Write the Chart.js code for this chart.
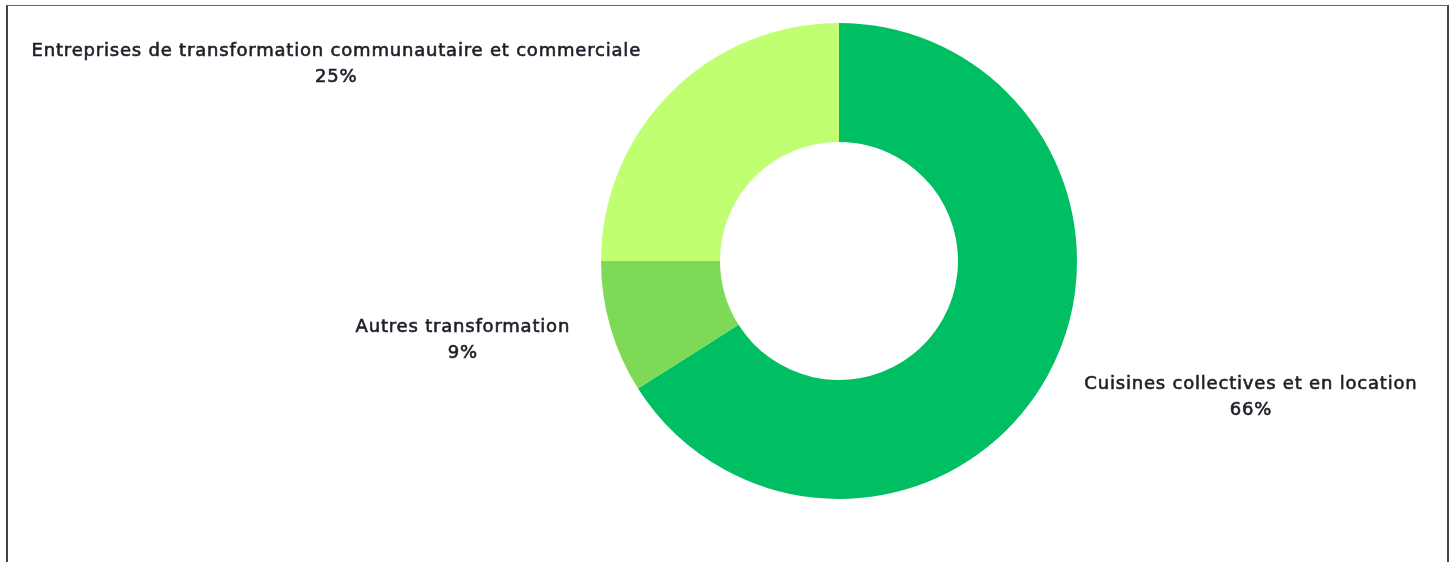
<!DOCTYPE html>
<html>
<head>
<meta charset="utf-8">
<script src="https://cdn.jsdelivr.net/npm/chart.js@4/dist/chart.umd.min.js"></script>
<style>
  html, body { margin: 0; padding: 0; background: #fff; overflow: hidden; }
  #frame {
    position: absolute; left: 6px; top: 5px; width: 1439px; height: 600px;
    border-left: 2px solid #444; border-right: 2px solid #444; border-top: 1px solid #666;
  }
  #c { position: absolute; left: 0; top: 0; }
</style>
</head>
<body>
<div id="frame"></div>
<canvas id="c" width="1454" height="562"></canvas>
<script>
// values, clockwise from 12 o'clock
var categories = ["Cuisines collectives et en location", "Autres transformation", "Entreprises de transformation communautaire et commerciale"];
var shares = [66, 9, 25];
var sliceColors = ["#00BF63", "#7ED957", "#C1FF72"];

// draws the two-line labels just outside each slice
var outsideLabels = {
	id: "outsideLabels",
	afterDraw: function(chart) {
		var ctx = chart.ctx;
		var meta = chart.getDatasetMeta(0);
		ctx.save();
		ctx.fillStyle = "#1f1f2a";
		ctx.strokeStyle = "#1f1f2a";
		ctx.lineWidth = 0.6;
		ctx.font = "18px 'DejaVu Sans'";
		ctx.letterSpacing = "0.8px";
		ctx.textBaseline = "middle";
		ctx.textAlign = "center";
		meta.data.forEach(function(arc, i) {
			var mid = (arc.startAngle + arc.endAngle) / 2;
			var r = arc.outerRadius + 42;
			var x = arc.x + Math.cos(mid) * r;
			var y = arc.y + Math.sin(mid) * r;
			var l1 = categories[i];
			var l2 = shares[i] + "%";
			var w = ctx.measureText(l1).width;
			var cx = Math.cos(mid) < 0 ? x - w / 2 : x + w / 2;
			ctx.fillText(l1, cx, y - 12);
			ctx.strokeText(l1, cx, y - 12);
			ctx.fillText(l2, cx, y + 14);
			ctx.strokeText(l2, cx, y + 14);
		});
		ctx.restore();
	}
};

var chart = new Chart(document.getElementById("c").getContext("2d"), {
	type: "doughnut",
	data: {
		labels: categories,
		datasets: [{
			data: shares,
			backgroundColor: sliceColors,
			borderWidth: 0
		}]
	},
	options: {
		responsive: false,
		animation: false,
		cutout: "50%",
		layout: { padding: { top: 23, bottom: 63, left: 400, right: 176 } },
		plugins: {
			legend: { display: false },
			tooltip: { enabled: false }
		}
	},
	plugins: [outsideLabels]
});
</script>
</body>
</html>
